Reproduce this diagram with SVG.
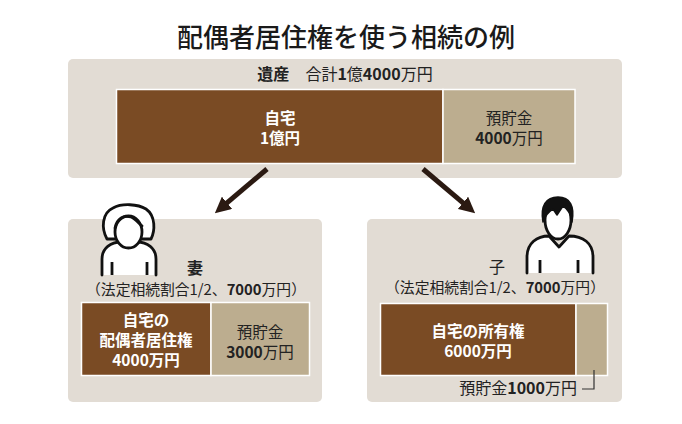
<svg xmlns="http://www.w3.org/2000/svg" width="682" height="424" viewBox="0 0 682 424">
<defs>
<style>
text{font-family:"Noto Sans CJK JP","Noto Sans",sans-serif;fill:#222;}
.title{font-size:26px;font-weight:500;text-anchor:middle;fill:#1a1a1a;}
.panel{fill:#e2dcd4;}
.brown{fill:#7a4b24;stroke:#fff;stroke-width:1.5;}
.tan{fill:#bcad8f;stroke:#fff;stroke-width:1.5;}
.w{fill:#fff;font-weight:700;font-size:15.5px;text-anchor:middle;}
.d{font-size:15.5px;text-anchor:middle;fill:#222;}
.lbl{font-size:14.8px;text-anchor:middle;}
.b{font-weight:700;}
.arrow{stroke:#2b1a12;stroke-width:5;fill:none;}
.icon{fill:#fff;stroke:#111;stroke-width:2.8;stroke-linejoin:round;stroke-linecap:round;}
</style>
<marker id="ah" viewBox="0 0 10 10" refX="3" refY="5" markerWidth="16" markerHeight="16" markerUnits="userSpaceOnUse" orient="auto">
<path d="M0,0 L10,5 L0,10 z" fill="#2b1a12"/>
</marker>
</defs>
<rect width="682" height="424" fill="#fff"/>
<text class="title" x="346" y="47">配偶者居住権を使う相続の例</text>

<g id="estate">
<rect class="panel" x="68" y="59" width="554" height="119" rx="5"/>
<text x="345" y="80" style="font-size:16px;text-anchor:middle"><tspan class="b">遺産</tspan>　合計<tspan class="b">1</tspan>億<tspan class="b">4000</tspan>万円</text>
<rect class="brown" x="116.5" y="89.5" width="326.5" height="74"/>
<rect class="tan" x="443" y="89.5" width="132" height="74"/>
<text class="w" x="280" y="124">自宅</text>
<text class="w" x="280" y="144">1億円</text>
<text class="d" x="509" y="124">預貯金</text>
<text class="d" x="509" y="144"><tspan class="b">4000</tspan>万円</text>
</g>

<g id="connectors">
<line class="arrow" x1="267" y1="169" x2="223.4" y2="205.9" marker-end="url(#ah)"/>
<line class="arrow" x1="423" y1="169" x2="466.6" y2="205.9" marker-end="url(#ah)"/>
</g>

<g id="wife">
<rect class="panel" x="68" y="219" width="254" height="183" rx="5"/>
<path class="icon" d="M102,275 V259 C102,248 111,242 121,242 H137 C147,242 156,248 156,259 V275"/>
<path class="icon" d="M107,239 C101,228 102,213 113,208 C122,203 138,204 146,209 C156,216 155,231 151,239 Z"/>
<ellipse class="icon" cx="128.5" cy="232" rx="13.5" ry="16"/>
<path d="M115,228 C117,218 124,215 131,217 C136,219 139,224 142,226" fill="none" stroke="#111" stroke-width="2.8" stroke-linecap="round"/>
<line x1="112" y1="262" x2="112" y2="275" stroke="#111" stroke-width="2.8"/>
<line x1="147" y1="262" x2="147" y2="275" stroke="#111" stroke-width="2.8"/>
<text x="195" y="274" style="font-size:16px;font-weight:700;text-anchor:middle">妻</text>
<text class="lbl" x="196" y="295">（法定相続割合1/2、<tspan class="b">7000</tspan>万円）</text>
<rect class="brown" x="81.5" y="302.5" width="129.5" height="73"/>
<rect class="tan" x="211" y="302.5" width="98.5" height="73"/>
<text class="w" x="146" y="326">自宅の</text>
<text class="w" x="146" y="346">配偶者居住権</text>
<text class="w" x="146" y="366">4000万円</text>
<text class="d" x="260" y="338">預貯金</text>
<text class="d" x="260" y="358"><tspan class="b">3000</tspan>万円</text>
</g>

<g id="child">
<rect class="panel" x="367" y="219" width="255" height="183" rx="5"/>
<path class="icon" d="M527,273 V257 C527,243 537,236 549,236 L559,247 L569,236 C583,236 593,243 593,257 V273"/>
<ellipse class="icon" cx="558" cy="220" rx="13" ry="19"/>
<path d="M543,222 C540,206 546,197 558,197 C570,197 575,206 572,222 C571,213 568,209 563,206 L557,215 L553,209 C548,212 545,216 543,222 Z" fill="#111" stroke="#111" stroke-width="1.5" stroke-linejoin="round"/>
<line x1="540" y1="260" x2="540" y2="273" stroke="#111" stroke-width="2.8"/>
<line x1="578" y1="260" x2="578" y2="273" stroke="#111" stroke-width="2.8"/>
<text x="497" y="273" style="font-size:16px;text-anchor:middle">子</text>
<text class="lbl" x="495" y="293">（法定相続割合1/2、<tspan class="b">7000</tspan>万円）</text>
<rect class="brown" x="380.5" y="303.5" width="195.5" height="72"/>
<rect class="tan" x="576" y="303.5" width="31.5" height="72"/>
<text class="w" x="478" y="337">自宅の所有権</text>
<text class="w" x="478" y="357">6000万円</text>
<text x="577" y="394" style="font-size:16px;text-anchor:end">預貯金<tspan class="b">1000</tspan>万円</text>
<polyline points="582,389 594,389 594,370" fill="none" stroke="#333" stroke-width="1.2"/>
</g>
</svg>
